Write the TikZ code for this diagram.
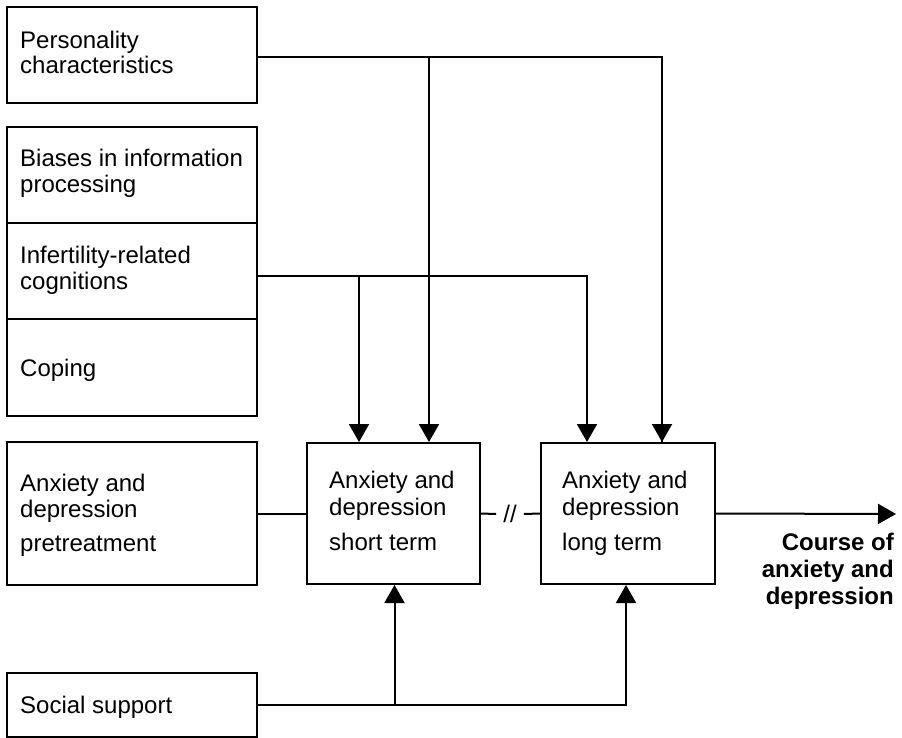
\documentclass[tikz,border=0pt]{standalone}
\usepackage{fontspec}
\setmainfont{Liberation Sans}
\usetikzlibrary{arrows.meta,calc}
\begin{document}
\begin{tikzpicture}[x=1pt,y=-1pt,
  box/.style={draw,line width=2pt,inner sep=0pt},
  lbl/.style={anchor=base west,inner sep=0pt,font=\fontsize{24}{26}\selectfont},
  blbl/.style={anchor=base east,inner sep=0pt,font=\fontsize{24}{26}\selectfont\bfseries},
  conn/.style={line width=2pt},
  arr/.style={line width=2pt,-{Triangle[length=18pt,width=20pt]}}]
\useasboundingbox (0,0) rectangle (902,738);
% boxes
\node[box,minimum width=250pt,minimum height=96pt] (pers) at (132,55) {};
\node[box,minimum width=250pt,minimum height=96pt] (bias) at (132,175) {};
\node[box,minimum width=250pt,minimum height=96pt] (infert) at (132,271) {};
\node[box,minimum width=250pt,minimum height=97pt] (coping) at (132,367.5) {};
\node[box,minimum width=250pt,minimum height=143pt] (pre) at (132,513.5) {};
\node[box,minimum width=250pt,minimum height=64pt] (social) at (132,705) {};
\node[box,minimum width=173pt,minimum height=141pt] (short) at (393.5,513.5) {};
\node[box,minimum width=174pt,minimum height=141pt] (long) at (628,513.5) {};
% texts
\node[lbl] (t1) at (20,49) {Personality};
\node[lbl] (t2) at (20,74) {characteristics};
\node[lbl] (t3) at (20,167) {Biases in information};
\node[lbl] (t4) at (20,193) {processing};
\node[lbl] (t5) at (20,263) {Infertility-related};
\node[lbl] (t6) at (20,289) {cognitions};
\node[lbl] (t7) at (20,376) {Coping};
\node[lbl] (t8) at (20,491) {Anxiety and};
\node[lbl] (t9) at (20,517) {depression};
\node[lbl] (t10) at (20,551) {pretreatment};
\node[lbl] (t11) at (329,488) {Anxiety and};
\node[lbl] (t12) at (329,515) {depression};
\node[lbl] (t13) at (329,550) {short term};
\node[lbl] (t14) at (562,488) {Anxiety and};
\node[lbl] (t15) at (562,515) {depression};
\node[lbl] (t16) at (562,550) {long term};
\node[lbl] (t17) at (20,713) {Social support};
\node[blbl] (c1) at (894,550) {Course of};
\node[blbl] (c2) at (894,577) {anxiety and};
\node[blbl] (c3) at (894,604) {depression};
% break marker
\node[inner xsep=7pt,inner ysep=0pt,font=\fontsize{24}{26}\selectfont] (brk) at (510,514) {//};
\coordinate (endpt) at (896,514);
% connectors
\draw[conn] ([yshift=-2pt]pers.east) -| ([xshift=34pt]long.north);
\draw[arr] ([yshift=-2pt,xshift=35.5pt]short.north |- pers.east) -- ([xshift=35.5pt]short.north);
\draw[arr] ([yshift=-2pt]pers.east -| long.north) ++(34,0) -- ([xshift=34pt]long.north);
\draw[arr] ([yshift=-5pt]infert.east) -| ([xshift=-41pt]long.north);
\draw[arr] ([yshift=-5pt,xshift=-34.5pt]infert.east -| short.north) -- ([xshift=-34.5pt]short.north);
\draw[conn] (pre.east) -- (short.west);
\draw[conn] (short.east) -- (brk.west);
\draw[conn] (brk.east) -- (long.west);
\draw[arr] (long.east) -- (endpt);
\draw[arr] (social.east) -| ([xshift=-2pt]long.south);
\draw[arr] ([xshift=1pt]social.east -| short.south) -- ([xshift=1pt]short.south);
\end{tikzpicture}
\end{document}
